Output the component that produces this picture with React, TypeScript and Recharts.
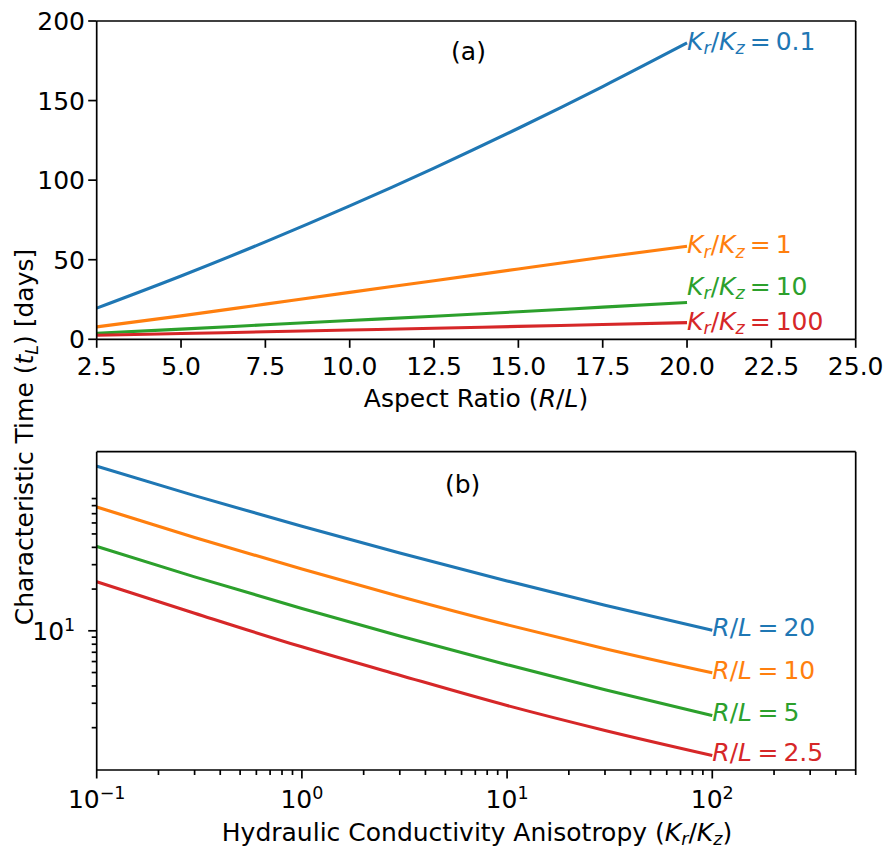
import React from 'react';
import { LineChart, Line, XAxis, YAxis } from 'recharts';

const FONT = "'DejaVu Sans', sans-serif";
const FS = 25;
const TICK = 8.5;
const TICK_MINOR = 5;
const AXIS_W = 1.7;
const LINE_W = 3.1;

const BLUE = '#1f77b4';
const ORANGE = '#ff7f0e';
const GREEN = '#2ca02c';
const RED = '#d62728';

// (a) characteristic time vs aspect ratio, one series per Kr/Kz
const aspectRatio = [2.5, 5, 7.5, 10, 12.5, 15, 17.5, 20];
const tK01 = [19.6, 39.8, 61.2, 83.8, 107.6, 132.6, 158.8, 186.2];
const tK1 = [7.8, 14.7, 22.1, 29.5, 36.8, 44.2, 51.5, 58.5];
const tK10 = [3.8, 6.4, 9.1, 11.8, 14.5, 17.3, 20.2, 23.1];
const tK100 = [2.5, 3.6, 4.7, 5.8, 6.9, 8.1, 9.3, 10.5];
const aTicksX = [2.5, 5, 7.5, 10, 12.5, 15, 17.5, 20, 22.5, 25];
const aTicksY = [0, 50, 100, 150, 200];

// (b) characteristic time vs anisotropy, one series per R/L
const anisotropy = [0.1, 0.3, 1, 3, 10, 30, 100];
const tRL20 = [154, 94.5, 56.7, 36.4, 22.9, 15.3, 10.1];
const tRL10 = [78.3, 47.1, 27.9, 17.7, 11.05, 7.42, 4.97];
const tRL5 = [40.6, 24.5, 14.5, 9.17, 5.69, 3.76, 2.45];
const tRL25 = [22.6, 13.4, 7.66, 4.78, 2.89, 1.91, 1.26];
const bTicksX = [
  0.1, 0.2, 0.3, 0.4, 0.5, 0.6, 0.7, 0.8, 0.9,
  1, 2, 3, 4, 5, 6, 7, 8, 9,
  10, 20, 30, 40, 50, 60, 70, 80, 90,
  100, 200, 300, 400, 500,
];
const bTicksY = [2, 3, 4, 5, 6, 7, 8, 9, 10, 20, 30, 40, 50, 60, 70, 80, 90];
const bMajorY = [10];

const dataA = aspectRatio.map((x, i) => ({ x, k01: tK01[i], k1: tK1[i], k10: tK10[i], k100: tK100[i] }));
const dataB = anisotropy.map((x, i) => ({ x, rl20: tRL20[i], rl10: tRL10[i], rl5: tRL5[i], rl25: tRL25[i] }));

const txt = { fontFamily: FONT, fontSize: FS, fill: '#000' };

const isDecade = (v: number) => Math.abs(Math.log10(v) - Math.round(Math.log10(v))) < 1e-9;

function Pow10({ v }: { v: number }) {
  const e = Math.round(Math.log10(v));
  return (
    <>
      <tspan>10</tspan>
      <tspan fontSize={FS * 0.7} dy={-9}>{e < 0 ? '\u2212' + Math.abs(e) : String(e)}</tspan>
    </>
  );
}

const XTickA = (p: any) => (
  <g>
    <line x1={p.x} x2={p.x} y1={p.y} y2={p.y + TICK} stroke="#000" strokeWidth={AXIS_W} />
    <text x={p.x} y={p.y + 35.5} textAnchor="middle" {...txt}>{p.payload.value.toFixed(1)}</text>
  </g>
);

const YTickA = (p: any) => (
  <g>
    <line x1={p.x - TICK} x2={p.x} y1={p.y} y2={p.y} stroke="#000" strokeWidth={AXIS_W} />
    <text x={p.x - 11.7} y={p.y + 9} textAnchor="end" {...txt}>{p.payload.value}</text>
  </g>
);

const XTickB = (p: any) => {
  const major = isDecade(p.payload.value);
  return (
    <g>
      <line x1={p.x} x2={p.x} y1={p.y} y2={p.y + (major ? TICK : TICK_MINOR)} stroke="#000" strokeWidth={AXIS_W} />
      {major && (
        <text x={p.x} y={p.y + 37.5} textAnchor="middle" {...txt}><Pow10 v={p.payload.value} /></text>
      )}
    </g>
  );
};

const YTickB = (p: any) => {
  const major = bMajorY.includes(p.payload.value);
  return (
    <g>
      <line x1={p.x - (major ? TICK : TICK_MINOR)} x2={p.x} y1={p.y} y2={p.y} stroke="#000" strokeWidth={AXIS_W} />
      {major && (
        <text x={p.x - 21.5} y={p.y + 9} textAnchor="end" {...txt}><Pow10 v={p.payload.value} /></text>
      )}
    </g>
  );
};

const KLabel = (val: string) => (
  <>
    <tspan fontStyle="italic">K</tspan>
    <tspan fontStyle="italic" fontSize={FS * 0.7} dy={4.5}>r</tspan>
    <tspan dy={-4.5}>/</tspan>
    <tspan fontStyle="italic">K</tspan>
    <tspan fontStyle="italic" fontSize={FS * 0.7} dy={4.5}>z</tspan>
    <tspan dy={-4.5} dx={5}>=</tspan>
    <tspan dx={5}>{val}</tspan>
  </>
);

const RLLabel = (val: string) => (
  <>
    <tspan fontStyle="italic">R</tspan>
    <tspan>/</tspan>
    <tspan fontStyle="italic">L</tspan>
    <tspan dx={5.5}>=</tspan>
    <tspan dx={5}>{val}</tspan>
  </>
);

function endLabel(last: number, color: string, body: React.ReactNode, dy = 7) {
  return (p: any) =>
    p.index === last ? (
      <text x={p.x} y={p.y + dy} fill={color} fontFamily={FONT} fontSize={FS}>{body}</text>
    ) : null;
}

export default function App() {
  const lastA = aspectRatio.length - 1;
  const lastB = anisotropy.length - 1;
  const axisLine = { stroke: '#000', strokeWidth: AXIS_W };

  return (
    <div style={{ position: 'absolute', left: 0, top: 0, width: 886, height: 850, background: '#fff' }}>
      <div style={{ position: 'absolute', left: 0, top: 0 }}>
        <LineChart width={886} height={400} data={dataA} margin={{ top: 20, right: 29.3, bottom: 0, left: 0 }}>
          <XAxis dataKey="x" type="number" domain={[2.5, 25]} ticks={aTicksX} interval={0} allowDataOverflow
            height={60.7} tickSize={0} tickMargin={0} tickLine={false} axisLine={axisLine} tick={<XTickA />} />
          <YAxis type="number" domain={[0, 200]} ticks={aTicksY} interval={0} allowDataOverflow
            width={96.7} tickSize={0} tickMargin={0} tickLine={false} axisLine={axisLine} tick={<YTickA />} />
          <XAxis xAxisId="top" orientation="top" dataKey="x" type="number" domain={[2.5, 25]} allowDataOverflow
            height={1} tick={false} tickLine={false} axisLine={axisLine} />
          <YAxis yAxisId="right" orientation="right" type="number" domain={[0, 200]} allowDataOverflow
            width={1} tick={false} tickLine={false} axisLine={axisLine} />
          <Line dataKey="k01" type="monotone" stroke={BLUE} strokeWidth={LINE_W} dot={false} isAnimationActive={false}
            label={endLabel(lastA, BLUE, KLabel('0.1'))} />
          <Line dataKey="k1" type="monotone" stroke={ORANGE} strokeWidth={LINE_W} dot={false} isAnimationActive={false}
            label={endLabel(lastA, ORANGE, KLabel('1'))} />
          <Line dataKey="k10" type="monotone" stroke={GREEN} strokeWidth={LINE_W} dot={false} isAnimationActive={false}
            label={endLabel(lastA, GREEN, KLabel('10'), -7.6)} />
          <Line dataKey="k100" type="monotone" stroke={RED} strokeWidth={LINE_W} dot={false} isAnimationActive={false}
            label={endLabel(lastA, RED, KLabel('100'))} />
        </LineChart>
      </div>

      <div style={{ position: 'absolute', left: 0, top: 400 }}>
        <LineChart width={886} height={450} data={dataB} margin={{ top: 50.7, right: 29.3, bottom: 0, left: 0 }}>
          <XAxis dataKey="x" type="number" scale="log" domain={[0.1, 500]} ticks={bTicksX} interval={0} allowDataOverflow
            height={80} tickSize={0} tickMargin={0} tickLine={false} axisLine={axisLine} tick={<XTickB />} />
          <YAxis type="number" scale="log" domain={[0.99, 196]} ticks={bTicksY} interval={0} allowDataOverflow
            width={96.7} tickSize={0} tickMargin={0} tickLine={false} axisLine={axisLine} tick={<YTickB />} />
          <XAxis xAxisId="top" orientation="top" dataKey="x" type="number" scale="log" domain={[0.1, 500]} allowDataOverflow
            height={1} tick={false} tickLine={false} axisLine={axisLine} />
          <YAxis yAxisId="right" orientation="right" type="number" scale="log" domain={[0.99, 196]} allowDataOverflow
            width={1} tick={false} tickLine={false} axisLine={axisLine} />
          <Line dataKey="rl20" type="monotone" stroke={BLUE} strokeWidth={LINE_W} dot={false} isAnimationActive={false}
            label={endLabel(lastB, BLUE, RLLabel('20'), 6)} />
          <Line dataKey="rl10" type="monotone" stroke={ORANGE} strokeWidth={LINE_W} dot={false} isAnimationActive={false}
            label={endLabel(lastB, ORANGE, RLLabel('10'), 6)} />
          <Line dataKey="rl5" type="monotone" stroke={GREEN} strokeWidth={LINE_W} dot={false} isAnimationActive={false}
            label={endLabel(lastB, GREEN, RLLabel('5'), 6)} />
          <Line dataKey="rl25" type="monotone" stroke={RED} strokeWidth={LINE_W} dot={false} isAnimationActive={false}
            label={endLabel(lastB, RED, RLLabel('2.5'), 6)} />
        </LineChart>
      </div>

      <svg width={886} height={850} style={{ position: 'absolute', left: 0, top: 0, pointerEvents: 'none' }}>
        <text x={468.5} y={60} textAnchor="middle" {...txt}>(a)</text>
        <text x={462.7} y={492.5} textAnchor="middle" {...txt}>(b)</text>
        <text x={476} y={407} textAnchor="middle" {...txt}>
          Aspect Ratio (<tspan fontStyle="italic">R</tspan>/<tspan fontStyle="italic">L</tspan>)
        </text>
        <text x={477} y={841} textAnchor="middle" {...txt}>
          Hydraulic Conductivity Anisotropy (<tspan fontStyle="italic">K</tspan>
          <tspan fontStyle="italic" fontSize={FS * 0.7} dy={4}>r</tspan>
          <tspan dy={-4}>/</tspan>
          <tspan fontStyle="italic">K</tspan>
          <tspan fontStyle="italic" fontSize={FS * 0.7} dy={4}>z</tspan>
          <tspan dy={-4}>)</tspan>
        </text>
        <text transform="translate(33,437) rotate(-90)" textAnchor="middle" {...txt}>
          Characteristic Time (<tspan fontStyle="italic">t</tspan>
          <tspan fontStyle="italic" fontSize={FS * 0.7} dy={4.5}>L</tspan>
          <tspan dy={-4.5}>) [days]</tspan>
        </text>
      </svg>
    </div>
  );
}
